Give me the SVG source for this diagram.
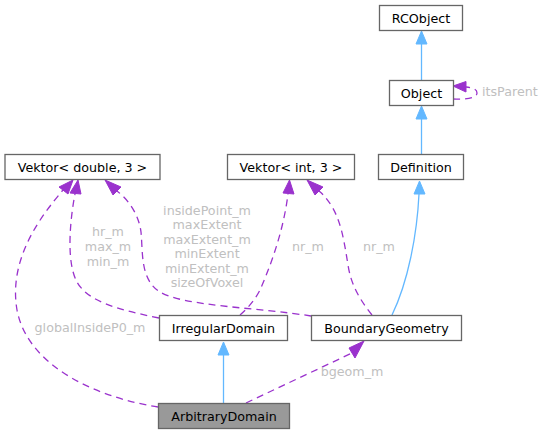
<svg xmlns="http://www.w3.org/2000/svg" width="544" height="435" viewBox="0 0 544 435">
<style>
.box{fill:#ffffff;stroke:#666666;stroke-width:1.3}
.cur{fill:#999999;stroke:#666666;stroke-width:1.3}
.t{font-family:"DejaVu Sans",sans-serif;font-size:12.7px;fill:#000000;text-anchor:middle}
.lbl{font-family:"DejaVu Sans",sans-serif;font-size:12.7px;fill:#c0c0c0;text-anchor:middle}
.inh{fill:none;stroke:#63b8ff;stroke-width:1.3}
.use{fill:none;stroke:#9a32cd;stroke-width:1.3;stroke-dasharray:7,5}
.ah{fill:#63b8ff;stroke:#63b8ff}
.ap{fill:#9a32cd;stroke:#9a32cd}
</style>
<rect width="544" height="435" fill="#ffffff"/>
<g id="edges">
  <!-- inheritance -->
  <path class="inh" d="M421.5,80 L421.5,44"/>
  <polygon class="ah" points="421.5,31 427,44 416,44"/>
  <path class="inh" d="M421.5,154 L421.5,119"/>
  <polygon class="ah" points="421.5,106 427,119 416,119"/>
  <path class="inh" d="M392,315 C408,282 417,235 419,194"/>
  <polygon class="ah" points="419.5,181 425,194 414,194"/>
  <path class="inh" d="M223.5,403 L223.5,355"/>
  <polygon class="ah" points="223.5,342 229,355 218,355"/>
  <!-- usage -->
  <path class="use" d="M453,99 C470,100 477,97 477,93 C477,89 473,88 466,87"/>
  <polygon class="ap" points="453,86 466,81.5 466,92"/>
  <path class="use" d="M246,403 L352,353"/>
  <polygon class="ap" points="364,341 355,358 349,348"/>
  <path class="use" d="M158,407 C100,398 28,368 17,310 C8,258 42,215 63,190"/>
  <polygon class="ap" points="73,180 68,194 59,187"/>
  <path class="use" d="M159,318 C120,310 88,302 77,282 C66,262 70,220 75,194"/>
  <polygon class="ap" points="78,180 81,194 70,193"/>
  <path class="use" d="M311,316 C262,308 182,306 160,292 C140,280 143,252 141,232 C139,216 130,201 117,191"/>
  <polygon class="ap" points="105,180 121,187 113,195"/>
  <path class="use" d="M240,315 C248,308 255,300 260,290 C274,258 284,226 288,194"/>
  <polygon class="ap" points="289.5,180 294,194 283,193"/>
  <path class="use" d="M372,315 C360,300 351,285 348,265 C344,240 341,221 331,205 C327,199 324,195 319,191"/>
  <polygon class="ap" points="307,180 323,187 315,195"/>
</g>
<g id="labels">
  <text class="lbl" x="482" y="96" style="text-anchor:start">itsParent</text>
  <text class="lbl" x="352" y="376">bgeom_m</text>
  <text class="lbl" x="90" y="332">globalInsideP0_m</text>
  <text class="lbl" x="108" y="236">hr_m</text>
  <text class="lbl" x="108" y="251">max_m</text>
  <text class="lbl" x="108" y="266">min_m</text>
  <text class="lbl" x="207" y="214.5">insidePoint_m</text>
  <text class="lbl" x="207" y="229">maxExtent</text>
  <text class="lbl" x="207" y="243.5">maxExtent_m</text>
  <text class="lbl" x="207" y="258">minExtent</text>
  <text class="lbl" x="207" y="272.5">minExtent_m</text>
  <text class="lbl" x="207" y="287">sizeOfVoxel</text>
  <text class="lbl" x="308" y="251">nr_m</text>
  <text class="lbl" x="379" y="251">nr_m</text>
</g>
<g id="RCObject">
  <rect class="box" x="379.5" y="5.5" width="83" height="25"/>
  <text class="t" x="421" y="22.5">RCObject</text>
</g>
<g id="Object">
  <rect class="box" x="389.5" y="80.5" width="64" height="25"/>
  <text class="t" x="421.5" y="97.5">Object</text>
</g>
<g id="Definition">
  <rect class="box" x="378.5" y="154.5" width="85" height="25"/>
  <text class="t" x="421" y="171.5">Definition</text>
</g>
<g id="VektorDouble">
  <rect class="box" x="5" y="154.5" width="155" height="25"/>
  <text class="t" x="82.5" y="171.5">Vektor&lt; double, 3 &gt;</text>
</g>
<g id="VektorInt">
  <rect class="box" x="227.5" y="154.5" width="127" height="25"/>
  <text class="t" x="291" y="171.5">Vektor&lt; int, 3 &gt;</text>
</g>
<g id="IrregularDomain">
  <rect class="box" x="159.5" y="315.5" width="128" height="25"/>
  <text class="t" x="223.5" y="332.5">IrregularDomain</text>
</g>
<g id="BoundaryGeometry">
  <rect class="box" x="311.5" y="315.5" width="150" height="25"/>
  <text class="t" x="386.5" y="332.5">BoundaryGeometry</text>
</g>
<g id="ArbitraryDomain">
  <rect class="cur" x="158.5" y="403.5" width="131" height="25"/>
  <text class="t" x="224" y="420.5">ArbitraryDomain</text>
</g>
</svg>
